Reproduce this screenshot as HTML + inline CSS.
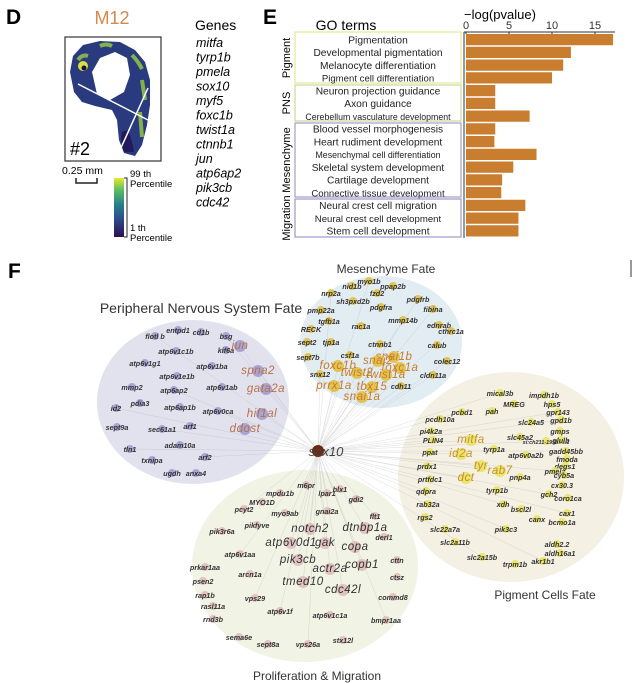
<!DOCTYPE html>
<html><head><meta charset="utf-8">
<style>
html,body{margin:0;padding:0;background:#fff;}
body{width:633px;height:683px;overflow:hidden;position:relative;font-family:"Liberation Sans",sans-serif;}
svg{position:absolute;left:0;top:0;}
</style></head>
<body>
<svg id="fig" width="633" height="683" viewBox="0 0 633 683" xmlns="http://www.w3.org/2000/svg" font-family="Liberation Sans, sans-serif">
  <defs>
    <linearGradient id="vir" x1="0" y1="1" x2="0" y2="0">
      <stop offset="0" stop-color="#2b0f4f"/>
      <stop offset="0.3" stop-color="#2f4a8a"/>
      <stop offset="0.55" stop-color="#25808a"/>
      <stop offset="0.8" stop-color="#5cbf62"/>
      <stop offset="1" stop-color="#e8e830"/>
    </linearGradient>
  </defs>
  <!-- Panel D -->
  <g>
    <text x="6" y="24" font-size="21" font-weight="bold">D</text>
    <text x="112" y="24" font-size="18" fill="#d8884a" text-anchor="middle">M12</text>
    <rect x="65" y="37" width="96" height="124" fill="#fff" stroke="#333" stroke-width="1.2"/>
    <path d="M70,72 L73,56 L83,45 L100,41 L120,42 L135,50 L145,62 L150,80 L150,105 L147,125 L142,145 L135,156 L124,153 L119,140 L117,120 L112,110 L95,106 L82,102 L74,92 Z" fill="#2a3a7e"/>
    <path d="M78,60 q4,-6 10,-4 M100,46 q6,-3 12,0 M132,55 q6,6 10,14 M142,80 l3,20 M140,112 l2,25" stroke="#9ad040" stroke-width="4" fill="none" opacity="0.8"/>
    <circle cx="83" cy="66" r="5" fill="#d8e040"/>
    <circle cx="84" cy="68" r="2.5" fill="#1a1040"/>
    <path d="M92,72 L100,58 L115,52 L127,58 L130,75 L124,92 L110,100 L97,94 Z" fill="#fff"/>
    <path d="M128,130 q4,10 6,22 l-10,0 q-4,-10 -2,-20 Z" fill="#221a5a"/>
    <line x1="78" y1="84" x2="148" y2="120" stroke="#fff" stroke-width="1.5"/>
    <line x1="120" y1="150" x2="148" y2="88" stroke="#fff" stroke-width="1.5"/>
    <text x="70" y="155" font-size="18">#2</text>
    <text x="62" y="174" font-size="10.5">0.25 mm</text>
    <path d="M76,178 v5 h21 v-5" stroke="#222" stroke-width="1.5" fill="none"/>
    <rect x="114" y="178" width="10" height="59" fill="url(#vir)"/>
    <path d="M124,178 h3 v59 h-3" stroke="#222" fill="none"/>
    <text x="130" y="177" font-size="9.5"><tspan x="130">99 th</tspan><tspan x="130" dy="10">Percentile</tspan></text>
    <text x="130" y="231" font-size="9.5"><tspan x="130">1 th</tspan><tspan x="130" dy="10">Percentile</tspan></text>
    <text x="195" y="30" font-size="14">Genes</text>
    <g font-size="12.5" font-style="italic">
      <text x="196" y="47">mitfa</text><text x="196" y="61.5">tyrp1b</text><text x="196" y="76">pmela</text>
      <text x="196" y="90.5">sox10</text><text x="196" y="105">myf5</text><text x="196" y="119.5">foxc1b</text>
      <text x="196" y="134">twist1a</text><text x="196" y="148.5">ctnnb1</text><text x="196" y="163">jun</text>
      <text x="196" y="177.5">atp6ap2</text><text x="196" y="192">pik3cb</text><text x="196" y="206.5">cdc42</text>
    </g>
  </g>
  <!-- Panel E -->
  <g>
    <text x="263" y="24" font-size="21" font-weight="bold">E</text>
    <text x="346" y="30" font-size="14" text-anchor="middle">GO terms</text>
    <text x="464" y="19" font-size="13">−log(pvalue)</text>
    <rect x="295" y="32" width="166" height="51" fill="none" stroke="#e6e69a" stroke-width="1.2"/>
    <rect x="295" y="85" width="166" height="36" fill="none" stroke="#c8d89a" stroke-width="1.2"/>
    <rect x="295" y="123" width="166" height="74" fill="none" stroke="#a0a0cc" stroke-width="1.2"/>
    <rect x="295" y="199" width="166" height="38" fill="none" stroke="#9a9ac8" stroke-width="1.2"/>
    <g font-size="11" text-anchor="middle">
      <text transform="translate(290,58) rotate(-90)">Pigment</text>
      <text transform="translate(290,103) rotate(-90)">PNS</text>
      <text transform="translate(290,160) rotate(-90)">Mesenchyme</text>
      <text transform="translate(290,218) rotate(-90)">Migration</text>
    </g>
    <g id="bars"></g>
  </g>
  <!-- Panel F -->
  <g>
    <text x="8" y="278" font-size="21" font-weight="bold">F</text>
    <line x1="631" y1="260" x2="631" y2="277" stroke="#555" stroke-width="1.2"/>
    <ellipse cx="193" cy="402" rx="96" ry="82" fill="#e2e2ee"/>
    <ellipse cx="381" cy="342" rx="81" ry="66" fill="#e2ecf3"/>
    <ellipse cx="511" cy="477" rx="113" ry="105" fill="#f5f0e4"/>
    <ellipse cx="305" cy="566" rx="113" ry="96" fill="#f1f3e4"/>
    <g id="edges" stroke="#999" stroke-width="0.4" opacity="0.4"></g>
    <g id="nodes"></g>
    <circle cx="318" cy="451" r="6" fill="#6a2a14"/>
    <text x="326" y="456" font-size="13" font-style="italic" fill="#444" text-anchor="middle">sox10</text>
    <text x="201" y="313" font-size="14" fill="#333" text-anchor="middle">Peripheral Nervous System Fate</text>
    <text x="386" y="273" font-size="12" fill="#333" text-anchor="middle">Mesenchyme Fate</text>
    <text x="545" y="599" font-size="12" fill="#333" text-anchor="middle">Pigment Cells Fate</text>
    <text x="317" y="680" font-size="12" fill="#333" text-anchor="middle">Proliferation &amp; Migration</text>
  </g>
</svg>
<script>
// ---- GO bar chart data ----
const goTerms = ["Pigmentation","Developmental pigmentation","Melanocyte differentiation","Pigment cell differentiation","Neuron projection guidance","Axon guidance","Cerebellum vasculature development","Blood vessel morphogenesis","Heart rudiment development","Mesenchymal cell differentiation","Skeletal system development","Cartilage development","Connective tissue development","Neural crest cell migration","Neural crest cell development","Stem cell development"];
const goValues = [17.1,12.2,11.3,10.0,3.4,3.4,7.4,3.4,3.3,8.2,5.5,4.2,4.1,6.9,6.1,6.1];
const tickValues = [0,5,10,15];
const tickLabels = ["0","5","10","15"];

const NS = "http://www.w3.org/2000/svg";
function mk(tag, attrs, parent){const e=document.createElementNS(NS,tag);for(const k in attrs)e.setAttribute(k,attrs[k]);parent.appendChild(e);return e;}
const x0=466, pxPerUnit=8.6, yTop=33.5, rowH=12.75;
function xScale(v){return x0+v*pxPerUnit;}
function yScale(i){return yTop+i*rowH;}
const bars=document.getElementById('bars');
const ax=mk('line',{x1:464,y1:32,x2:615,y2:32,stroke:'#333','stroke-width':1},bars);


const ay=mk('line',{x1:464,y1:32,x2:464,y2:238,stroke:'#333','stroke-width':1},bars);


tickValues.forEach((t,i)=>{
  const tx=mk('text',{x:xScale(t),y:29,'font-size':11,'text-anchor':'middle',fill:'#333'},bars);
  tx.textContent=tickLabels[i];
  
  
  mk('line',{x1:xScale(t),y1:32,x2:xScale(t),y2:34,stroke:'#333'},bars);
});
goTerms.forEach((term,i)=>{
  const y=yScale(i);
  const r=mk('rect',{x:x0,y:y+0.5,width:xScale(goValues[i])-x0,height:rowH-1.5,fill:'#c97d2e'},bars);
  
  
  const t=mk('text',{x:378,y:y+rowH*0.5+3.6,'font-size':term.length>30?8.8:(term.length>27?9.6:10.2),'text-anchor':'middle',fill:'#222'},bars);
  t.textContent=term;
  
  
});

// ---- Network node labels: [text, x, y, large] ----
const pnsNodes=[["flotl b",155,339,0],["entpd1",178,333,0],["cd1b",201,335,0],["bsg",226,339,0],["atp6v1c1b",176,354,0],["kif6a",226,353,0],["jun",240,349,1],["atp6v1g1",145,366,0],["atp6v1ba",212,369,0],["spna2",258,374,1],["atp6v1e1b",177,379,0],["mmp2",132,390,0],["atp6ap2",174,393,0],["atp6v1ab",222,390,0],["gata2a",266,392,1],["id2",116,411,0],["pdia3",140,406,0],["atp6ap1b",180,410,0],["atp6v0ca",218,414,0],["hif1al",262,417,1],["sept9a",117,430,0],["sec61a1",162,432,0],["arf1",190,429,0],["ddost",245,432,1],["tln1",130,452,0],["adam10a",180,448,0],["txnipa",152,463,0],["arf2",205,460,0],["ugdh",172,476,0],["anxa4",196,476,0]];
const mesNodes=[["myo1b",369,284,0],["nid1b",352,289,0],["ppap2b",393,289,0],["nrp2a",331,296,0],["fzd2",377,296,0],["sh3pxd2b",353,304,0],["pdgfrb",418,302,0],["pmp22a",321,313,0],["pdgfra",381,310,0],["fibina",433,312,0],["tgfb1a",329,324,0],["rac1a",361,329,0],["mmp14b",403,323,0],["ednrab",439,328,0],["RECK",311,332,0],["cthrc1a",451,334,0],["sept2",307,345,0],["tjp1a",331,345,0],["ctnnb1",380,347,0],["calub",437,348,0],["sept7b",308,360,0],["csf1a",350,358,0],["snai1b",394,360,1],["snai2",378,364,1],["colec12",447,364,0],["foxc1b",338,369,1],["foxc1a",400,371,1],["snx12",320,377,0],["twist2",357,376,1],["twist1a",386,378,1],["cldn11a",433,378,0],["prrx1a",334,389,1],["tbx15",372,390,1],["cdh11",401,389,0],["snai1a",362,400,1]];
const pigNodes=[["mical3b",500,396,0],["impdh1b",544,398,0],["hps5",552,407,0],["pcbd1",462,415,0],["pah",492,414,0],["MREG",514,407,0],["gpr143",558,415,0],["pcdh10a",440,422,0],["slc24a5",531,425,0],["gpd1b",561,423,0],["pi4k2a",431,434,0],["gmps",560,434,0],["PLIN4",433,443,0],["mitfa",471,443,1],["slc45a2",520,440,0],["si:ch211-195b13.1",546,444,0],["glulb",561,443,0],["ppat",430,455,0],["id2a",461,457,1],["tyrp1a",494,452,0],["atp6v0a2b",526,458,0],["gadd45bb",566,454,0],["fmoda",567,462,0],["prdx1",427,469,0],["tyr",481,469,1],["rab7",500,474,1],["degs1",565,469,0],["pmela",555,474,0],["cyb5a",564,478,0],["prtfdc1",430,482,0],["dct",466,481,1],["pnp4a",520,480,0],["cx30.3",562,488,0],["qdpra",426,494,0],["tyrp1b",497,493,0],["gch2",549,497,0],["coro1ca",568,501,0],["rab32a",428,507,0],["xdh",503,507,0],["bscl2l",521,512,0],["rgs2",425,520,0],["canx",537,522,0],["cax1",567,516,0],["bcmo1a",562,525,0],["slc22a7a",445,532,0],["pik3c3",506,532,0],["slc2a11b",455,545,0],["aldh2.2",557,547,0],["slc2a15b",482,560,0],["aldh16a1",560,556,0],["trpm1b",515,567,0],["akr1b1",543,564,0]];
const proNodes=[["m6pr",306,488,0],["hlx1",340,492,0],["mpdu1b",280,496,0],["lpar1",327,496,0],["MYO1D",262,505,0],["gdi2",356,502,0],["pcyt2",244,512,0],["myo9ab",285,516,0],["gnai2a",327,514,0],["flt1",375,519,0],["pik3r6a",222,534,0],["pikfyve",257,528,0],["notch2",310,532,1],["dtnbp1a",365,531,1],["derl1",384,540,0],["atp6v0d1",291,546,1],["gak",325,546,1],["copa",355,550,1],["atp6v1aa",240,557,0],["pik3cb",298,563,1],["cttn",397,563,0],["copb1",362,568,1],["prkar1aa",205,570,0],["arcn1a",250,577,0],["actr2a",330,572,1],["ctsz",397,580,0],["psen2",203,584,0],["tmed10",303,585,1],["cdc42l",343,593,1],["rap1b",205,598,0],["vps29",255,601,0],["commd8",393,600,0],["rasl11a",213,609,0],["atp6v1f",280,614,0],["atp6v1c1a",330,618,0],["rnd3b",213,622,0],["bmpr1aa",386,623,0],["sema6e",239,640,0],["sept8a",268,647,0],["vps26a",308,647,0],["stx12l",343,643,0]];

const clusterNodes=[pnsNodes,mesNodes,pigNodes,proNodes];
const nodeFill=["#9896cc","#e2ba2c","#e6e250","#ddb6b6"];
const bigFill=["#b8704a","#c87a2a","#c8902a","#333"];
const edgesG=document.getElementById('edges'), nodesG=document.getElementById('nodes');
clusterNodes.forEach((arr,c)=>{
  arr.forEach((n,i)=>{
    const [txt,x,y,big]=n;
    if(big||i%3===0){
      const l=mk('line',{x1:318,y1:451,x2:x,y2:y-3},edgesG);
      
      
    }
    const circ=mk('circle',{cx:x,cy:y-3,r:big?6:4,fill:nodeFill[c],opacity:0.8},nodesG);
    
    
    const t=mk('text',{x:x,y:y,'font-size':big?11.5:(txt.length>12?5.5:7.2),'font-style':'italic','font-weight':big?'normal':'bold','text-anchor':'middle',fill:big?bigFill[c]:'#333','letter-spacing':big?'0.5':'0'},nodesG);
    t.textContent=txt;
    
    
  });
});
</script>
</body></html>
